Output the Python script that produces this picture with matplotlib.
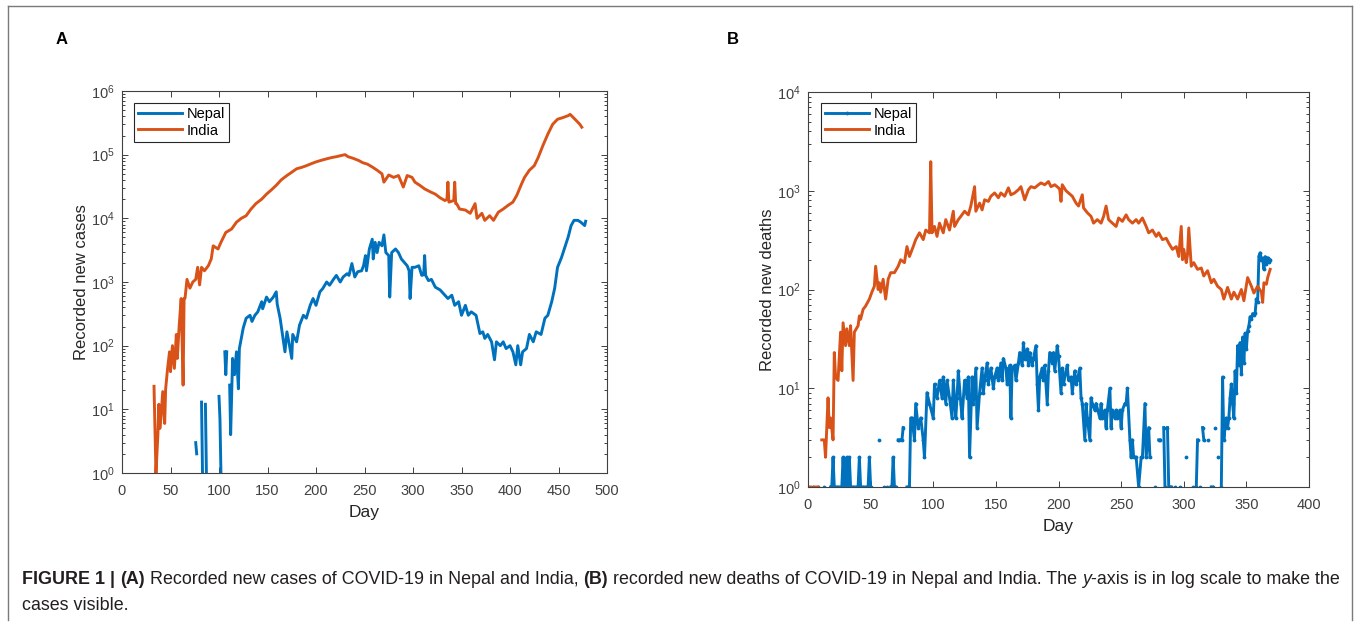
import numpy as np
import matplotlib
matplotlib.use('Agg')
import matplotlib.pyplot as plt
from matplotlib.lines import Line2D

nan = np.nan

# ---- panel A: recorded new cases ----
india_cases_day = [33, 35, 37, 38, 39, 40, 42, 44, 45, 47, 49, 50, 52, 54, 56, 57, 59, 61, 63, 64,
                   65, 67, 70, 73, 76, 78, 80, 82, 85, 89, 92, 94, 99, 102, 107, 113, 118, 123, 128, 133,
                   138, 144, 149, 154, 159, 164, 170, 175, 180, 185, 190, 195, 200, 206, 211, 216, 221, 226, 230, 233,
                   238, 244, 248, 253, 258, 263, 268, 270, 275, 280, 285, 290, 294, 299, 302, 307, 312, 318, 323, 328,
                   333, 335, 336, 337, 342, 343, 344, 345, 348, 354, 359, 364, 366, 371, 374, 379, 383, 388, 393, 398,
                   403, 407, 412, 415, 420, 425, 429, 434, 439, 444, 449, 454, 460, 462, 467, 472, 474]
india_cases = [23, 1, 4, 12, 5, 7, 19, 6, 21, 44, 80, 39, 100, 44, 150, 63, 210, 550, 24, 550,
               560, 1100, 800, 1000, 1100, 1700, 900, 1700, 1500, 1800, 2300, 3700, 3300, 4200, 6000, 6800, 8700, 10000, 11000, 14000,
               17000, 20000, 24000, 28000, 33000, 40000, 47000, 53000, 60000, 63000, 67000, 72000, 77000, 82000, 86000, 90000, 93000, 97000, 100000, 93000,
               88000, 81000, 75000, 71000, 64000, 57000, 50000, 37000, 48000, 44000, 47000, 31000, 47000, 44000, 37000, 33000, 29000, 26000, 24000, 21000,
               19000, 20000, 37000, 18000, 19000, 37000, 17000, 17000, 14000, 13500, 12000, 17000, 10000, 12000, 9300, 11000, 9300, 12500, 14000, 16000,
               18000, 23000, 35000, 44000, 57000, 67000, 90000, 140000, 210000, 300000, 360000, 380000, 410000, 430000, 360000, 300000, 270000]

nepal_cases_day = [76, 77, 78, 82, 83, 84, 86, 87, 88, 90, 91, 94, 95, 100, 101, 102, 103, 106, 107, 108,
                   109, 111, 112, 114, 116, 118, 120, 121, 125, 128, 132, 134, 137, 140, 144, 145, 149, 152, 156, 159,
                   160, 163, 166, 168, 170, 172, 175, 176, 180, 183, 187, 190, 194, 197, 200, 204, 207, 211, 214, 218,
                   221, 225, 228, 232, 234, 237, 240, 243, 247, 249, 251, 252, 255, 258, 259, 261, 263, 265, 268, 270,
                   272, 275, 276, 278, 282, 285, 288, 294, 296, 297, 299, 302, 306, 309, 311, 312, 313, 316, 319, 323,
                   328, 333, 336, 340, 343, 347, 350, 354, 357, 360, 365, 369, 372, 374, 377, 381, 384, 386, 390, 393,
                   396, 400, 403, 406, 408, 411, 413, 417, 420, 424, 427, 432, 436, 439, 443, 446, 449, 453, 456, 460,
                   463, 466, 470, 473, 477, 478]
nepal_cases = [3, 2, nan, 13, 1, nan, 12, 1, nan, 3, nan, 3, nan, 16, 7, 1, nan, 80, 35, 80,
               nan, 24, 4, 63, 35, 80, 21, 90, 190, 270, 300, 240, 300, 340, 490, 380, 580, 490, 580, 700,
               450, 270, 130, 80, 165, 115, 63, 150, 115, 210, 300, 270, 430, 550, 430, 700, 790, 1000, 890, 1100,
               1270, 1000, 1200, 1350, 1270, 1950, 1200, 1450, 1500, 1800, 2600, 1500, 3300, 4700, 2300, 4200, 2900, 4200, 3700, 5500,
               2900, 2600, 580, 2900, 3300, 2900, 2300, 1800, 1500, 550, 1700, 1700, 1800, 1270, 1300, 2600, 1270, 1050, 1100, 830,
               750, 620, 550, 620, 430, 490, 300, 430, 300, 340, 300, 155, 165, 130, 150, 115, 60, 115, 100, 115,
               90, 100, 80, 50, 100, 50, 80, 90, 150, 115, 165, 150, 270, 300, 490, 790, 1700, 2400, 3300, 5100,
               7700, 9300, 9300, 8700, 7700, 9000]

# ---- panel B: recorded new deaths ----
india_deaths_day = [0, 1, 2, 3, 5, 6, 7, 8, 9, 11, 13, 14, 16, 17, 18, 20, 21, 22, 24, 26,
                    27, 28, 30, 31, 33, 34, 36, 37, 40, 41, 42, 44, 46, 49, 51, 53, 54, 56, 57, 58,
                    60, 62, 64, 66, 69, 72, 74, 77, 79, 81, 84, 86, 89, 92, 94, 97, 98, 99, 101, 103,
                    105, 108, 110, 113, 116, 117, 120, 122, 125, 128, 130, 133, 134, 137, 139, 141, 144, 146, 149, 152,
                    154, 157, 160, 162, 165, 168, 170, 173, 176, 178, 181, 184, 186, 189, 192, 194, 197, 200, 201, 202,
                    203, 206, 208, 211, 214, 216, 219, 220, 223, 226, 228, 231, 234, 236, 238, 240, 243, 246, 248, 251,
                    254, 256, 259, 262, 264, 267, 270, 272, 275, 278, 280, 283, 286, 288, 291, 294, 296, 298, 299, 300,
                    302, 303, 304, 306, 308, 311, 314, 316, 319, 322, 324, 327, 330, 332, 335, 338, 340, 343, 346, 348,
                    351, 354, 356, 359, 362, 363, 364, 366, 367, 369]
india_deaths = [1, 1, 1, nan, 1, 1, 1, 1, nan, 3, 3, 2, 8, 4, 5, 3, 23, 13, 12, 37,
                15, 46, 27, 40, 27, 43, 12, 37, 43, 54, 50, 63, 68, 80, 94, 108, 172, 100, 117, 94,
                127, 80, 127, 148, 148, 172, 200, 187, 272, 216, 272, 320, 375, 320, 400, 375, 1970, 375, 435, 345,
                470, 375, 510, 400, 620, 435, 510, 550, 620, 570, 700, 1100, 620, 750, 640, 810, 780, 880, 950, 850,
                950, 880, 1070, 910, 950, 1025, 1100, 810, 1025, 1100, 1070, 1150, 1200, 1150, 1240, 1100, 1150, 1070, 1025, 780,
                1150, 1000, 950, 880, 750, 700, 910, 670, 600, 550, 470, 510, 470, 550, 700, 510, 470, 435, 530, 490,
                570, 510, 470, 510, 470, 530, 435, 375, 400, 345, 375, 320, 330, 295, 255, 272, 216, 435, 200, 255,
                187, 225, 420, 172, 187, 160, 165, 137, 155, 117, 127, 108, 100, 80, 105, 80, 94, 80, 100, 77,
                132, 108, 92, 108, 94, 74, 117, 113, 132, 160]

nepal_deaths_day = [0, 1, 4, 5, 8, 9, 13, 14, 18, 19, 20, 21, 22, 24, 26, 27, 28, 29, 30, 31,
                    32, 33, 34, 36, 38, 40, 41, 42, 44, 46, 48, 49, 50, 51, 57, 58, 61, 62, 63, 64,
                    66, 67, 68, 69, 70, 71, 72, 73, 74, 75, 76, 77, 79, 80, 81, 82, 83, 85, 86, 88,
                    90, 92, 93, 95, 97, 100, 101, 103, 105, 107, 108, 110, 111, 113, 115, 116, 118, 119, 120, 122,
                    123, 125, 127, 128, 129, 131, 132, 134, 135, 137, 139, 140, 141, 143, 144, 146, 148, 149, 151, 152,
                    154, 155, 156, 158, 159, 161, 162, 163, 165, 166, 168, 169, 171, 172, 173, 175, 176, 177, 179, 180,
                    182, 183, 184, 185, 187, 188, 189, 191, 192, 193, 195, 196, 197, 199, 200, 202, 203, 204, 206, 207,
                    208, 210, 211, 213, 214, 215, 217, 218, 219, 221, 222, 223, 225, 226, 227, 229, 230, 233, 234, 235,
                    237, 238, 239, 241, 242, 243, 245, 246, 247, 249, 250, 251, 253, 254, 255, 257, 258, 259, 260, 261,
                    262, 264, 266, 267, 269, 270, 272, 273, 274, 277, 278, 280, 281, 282, 284, 285, 286, 287, 288, 289,
                    290, 291, 293, 294, 297, 298, 302, 303, 307, 308, 310, 311, 312, 313, 314, 315, 316, 317, 319, 320,
                    322, 323, 324, 325, 326, 327, 328, 330, 331, 332, 333, 334, 335, 336, 337, 338, 339, 340, 341, 342,
                    343, 344, 345, 346, 347, 348, 349, 350, 351, 352, 353, 354, 355, 356, 357, 358, 359, 360, 361, 362,
                    363, 364, 365, 366, 367, 368, 369]
nepal_deaths = [1, nan, 1, nan, 1, nan, 1, nan, 1, 1, 2, 1, 1, 1, 1, 1, 2, 1, 1, 2,
                1, 2, 1, 1, 1, 1, 2, 1, 1, 1, 1, 2, 1, nan, 3, nan, 1, nan, 1, nan,
                1, 1, 2, 1, 1, nan, 3, 3, nan, 3, 4, nan, 1, 1, 1, 5, 5, 3, 7, 4,
                5, 3, 2, 9, 7, 5, 11, 8, 12, 8, 13, 7, 12, 8, 5, 12, 5, 8, 15, 7,
                5, 12, 8, 13, 2, 13, 7, 16, 4, 9, 16, 9, 12, 18, 11, 16, 10, 13, 16, 12,
                18, 12, 20, 16, 11, 17, 5, 16, 17, 12, 18, 23, 17, 29, 20, 25, 17, 23, 17, 20,
                27, 11, 6, 13, 16, 12, 17, 7, 15, 23, 18, 23, 15, 27, 21, 9, 16, 11, 15, 17,
                12, 13, 9, 15, 11, 12, 16, 8, 7, 3, 7, 5, 3, 8, 7, 6, 7, 5, 7, 5,
                6, 4, 6, 10, 4, 6, 5, 6, 5, 6, 4, 6, 7, 7, 10, 3, 2, 3, 2, 2,
                2, 1, 2, 2, 7, 2, 4, 2, nan, 1, nan, 3, 3, nan, 4, 1, nan, 4, 1, 1,
                1, nan, 1, nan, 1, nan, 2, nan, 1, nan, 1, 3, nan, 1, nan, 4, 3, nan, 3, nan,
                1, 1, nan, 4, nan, 2, nan, 1, 13, 3, 4, 5, 4, 5, 8, 11, 7, 5, 15, 9,
                27, 17, 29, 14, 33, 18, 36, 25, 38, 43, 53, 50, 57, 55, 58, 80, 75, 217, 235, 200,
                208, 160, 215, 180, 210, 190, 200]

countries = ['Nepal', 'India']
ylabel_a = 'Recorded new cases'
ylabel_b = 'Recorded new deaths'

plt.rcParams['font.family'] = ['Liberation Sans', 'DejaVu Sans']
plt.rcParams['mathtext.fontset'] = 'custom'
plt.rcParams['mathtext.rm'] = 'Liberation Sans'
plt.rcParams['mathtext.it'] = 'Liberation Sans:italic'

W, H = 1360, 625
NEPAL = '#0072BD'
INDIA = '#D95319'
AXC = '#404040'

fig = plt.figure(figsize=(W / 100, H / 100), dpi=100)


def px_box(l, t, r, b):
    return [l / W, 1 - b / H, (r - l) / W, (b - t) / H]


def style(ax, xmax, ytop, ylabel):
    ax.set_yscale('log')
    ax.set_xlim(0, xmax)
    ax.set_ylim(1, 10 ** ytop)
    ax.set_yticks([10 ** k for k in range(ytop + 1)])
    ax.tick_params(which='both', direction='in', top=True, right=True,
                   colors=AXC, labelsize=10.5, width=0.7)
    ax.tick_params(which='major', length=4)
    ax.tick_params(axis='x', which='major', pad=8)
    ax.tick_params(axis='y', which='major', pad=5)
    ax.tick_params(which='minor', length=2)
    for s in ax.spines.values():
        s.set_color(AXC)
        s.set_linewidth(0.8)
    ax.set_xlabel('Day', fontsize=12.5, color='#262626', labelpad=5)
    ax.set_ylabel(ylabel, fontsize=12, color='#262626', labelpad=2)


# panel A
axa = fig.add_axes(px_box(122, 91, 607, 473))
axa.plot(nepal_cases_day, nepal_cases, color=NEPAL, lw=2.1, label=countries[0])
axa.plot(india_cases_day, india_cases, color=INDIA, lw=2.1, label=countries[1])
style(axa, 500, 6, ylabel_a)
axa.set_xticks(range(0, 501, 50))

# panel B
axb = fig.add_axes(px_box(808, 92, 1309, 487))
axb.plot(nepal_deaths_day, nepal_deaths, color=NEPAL, lw=2.1, marker='.', ms=3.5, label=countries[0])
axb.plot(india_deaths_day, india_deaths, color=INDIA, lw=2.1, label=countries[1])
style(axb, 400, 4, ylabel_b)
axb.set_xticks(range(0, 401, 50))

for ax, (dx, dy), (w, h) in [(axa, (12, 12), (485, 382)), (axb, (13, 11), (501, 395))]:
    leg = ax.legend(loc='upper left', bbox_to_anchor=(dx / w, 1 - dy / h), borderaxespad=0,
                    fancybox=False, edgecolor='#262626', framealpha=1, fontsize=10.5,
                    handlelength=3.0, handletextpad=0.3, labelspacing=0.15, borderpad=0.3)
    leg.get_frame().set_linewidth(0.8)

fig.text(62 / W, 1 - 40 / H, 'A', fontsize=12, fontweight='bold', ha='center', va='center')
fig.text(733 / W, 1 - 40 / H, 'B', fontsize=12, fontweight='bold', ha='center', va='center')

# outer border
bc = '#7a7a7a'
fig.add_artist(Line2D([8 / W, 1352 / W], [1 - 6 / H, 1 - 6 / H], color=bc, lw=1))
fig.add_artist(Line2D([8 / W, 8 / W], [1 - 6 / H, 1 - 620 / H], color=bc, lw=1))
fig.add_artist(Line2D([1352 / W, 1352 / W], [1 - 6 / H, 1 - 620 / H], color=bc, lw=1))

# caption, drawn piece by piece so bold / italic parts can be mixed
cap_font = ['Liberation Sans Narrow', 'Liberation Sans']
line1 = [('FIGURE 1 |', 'bold', 'normal', True), ('(A)', 'bold', 'normal', True),
         ('Recorded new cases of COVID-19 in Nepal and India,', 'normal', 'normal', True),
         ('(B)', 'bold', 'normal', True),
         ('recorded new deaths of COVID-19 in Nepal and India. The', 'normal', 'normal', True),
         ('y', 'normal', 'italic', True), ('-axis is in log scale to make the', 'normal', 'normal', False)]
line2 = [('cases visible.', 'normal', 'normal', True)]

renderer = fig.canvas.get_renderer()


def tw(s, size, weight='normal', style='normal'):
    t = fig.text(0, 0, s, fontsize=size, fontweight=weight, fontstyle=style, family=cap_font)
    w = t.get_window_extent(renderer).width
    t.remove()
    return w


def line_width(parts, size):
    sp = tw('x x', size) - tw('xx', size)
    total = 0
    for i, (s, wgt, sty, gap) in enumerate(parts):
        if i > 0 and gap:
            total += sp
        total += tw(s, size, wgt, sty)
    return total


size = 10.0
size = size * (1342 - 22) / line_width(line1, size)


def draw_line(parts, y):
    sp = tw('x x', size) - tw('xx', size)
    x = 22
    for i, (s, wgt, sty, gap) in enumerate(parts):
        if i > 0 and gap:
            x += sp
        fig.text(x / W, 1 - y / H, s, fontsize=size, fontweight=wgt, fontstyle=sty,
                 family=cap_font, va='center', ha='left', color='#231f20')
        x += tw(s, size, wgt, sty)


draw_line(line1, 580)
draw_line(line2, 606)

fig.savefig('out.png', dpi=100)
